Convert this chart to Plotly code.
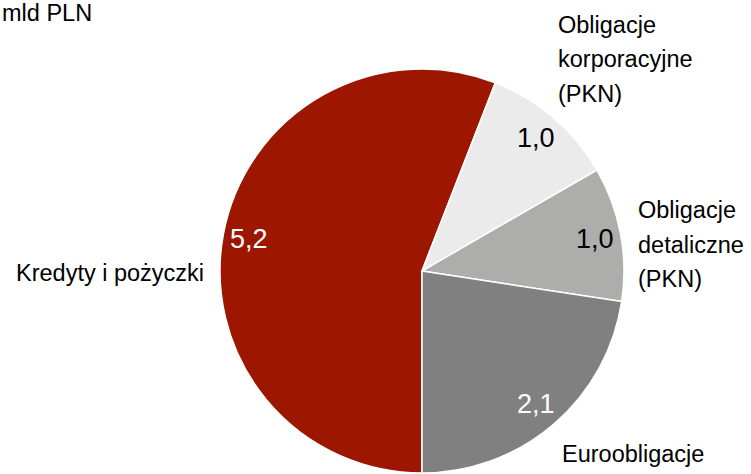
import math
import plotly.graph_objects as go

# ---- data ----
categories = ["Kredyty i pożyczki", "Obligacje korporacyjne (PKN)",
              "Obligacje detaliczne (PKN)", "Euroobligacje"]
values = [5.2, 1.0, 1.0, 2.1]
colors = ["#9C1600", "#EBEBEB", "#ADADAB", "#808080"]
value_text_colors = ["white", "black", "black", "white"]
unit_label = "mld PLN"

W, H = 751, 474
CX, CY, R = 422, 271, 202  # pie centre (px from top-left) and radius

fig = go.Figure()
fig.add_trace(go.Pie(
    labels=categories,
    values=values,
    sort=False,
    direction="clockwise",
    rotation=180,
    marker=dict(colors=colors, line=dict(color="white", width=1.5)),
    textinfo="none",
    hoverinfo="label+value",
    showlegend=False,
    domain=dict(x=[(CX - R) / W, (CX + R) / W],
                y=[(H - CY - R) / H, (H - CY + R) / H]),
))

FONT = "Liberation Sans, Arial, sans-serif"
annotations = []

# value labels placed at the mid-angle of each slice
total = sum(values)
start = 180.0
for v, tc in zip(values, value_text_colors):
    mid = start + v / total * 360 / 2
    start += v / total * 360
    th = math.radians(mid)
    px = CX + 0.87 * R * math.sin(th)
    py = CY - 0.87 * R * math.cos(th)
    annotations.append(dict(
        x=px / W, y=1 - py / H, xref="paper", yref="paper",
        text=f"{v:.1f}".replace(".", ","), showarrow=False,
        xanchor="center", yanchor="middle",
        font=dict(family=FONT, size=27, color=tc)))

# category labels (multi-line labels drawn line by line for the wider spacing)
LINE = 34.5

def lab(lines, x, y0, xanchor="left"):
    for i, line in enumerate(lines):
        annotations.append(dict(
            x=x / W, y=1 - (y0 + i * LINE) / H, xref="paper", yref="paper",
            text=line, showarrow=False, xanchor=xanchor, yanchor="middle",
            font=dict(family=FONT, size=23.5, color="black")))

lab([unit_label], 0, 13)
lab(["Kredyty i pożyczki"], 206, 273, xanchor="right")
lab(["Obligacje", "korporacyjne", "(PKN)"], 556, 25)
lab(["Obligacje", "detaliczne", "(PKN)"], 636, 210)
lab(["Euroobligacje"], 560, 454)

fig.update_layout(
    width=W, height=H,
    margin=dict(l=0, r=0, t=0, b=0),
    paper_bgcolor="white", plot_bgcolor="white",
    annotations=annotations,
    font=dict(family=FONT),
)

fig.write_html("out.html",
               config={"displayModeBar": False},
               post_script="document.body.style.margin='0px';"
                           "document.body.style.overflow='hidden';")
